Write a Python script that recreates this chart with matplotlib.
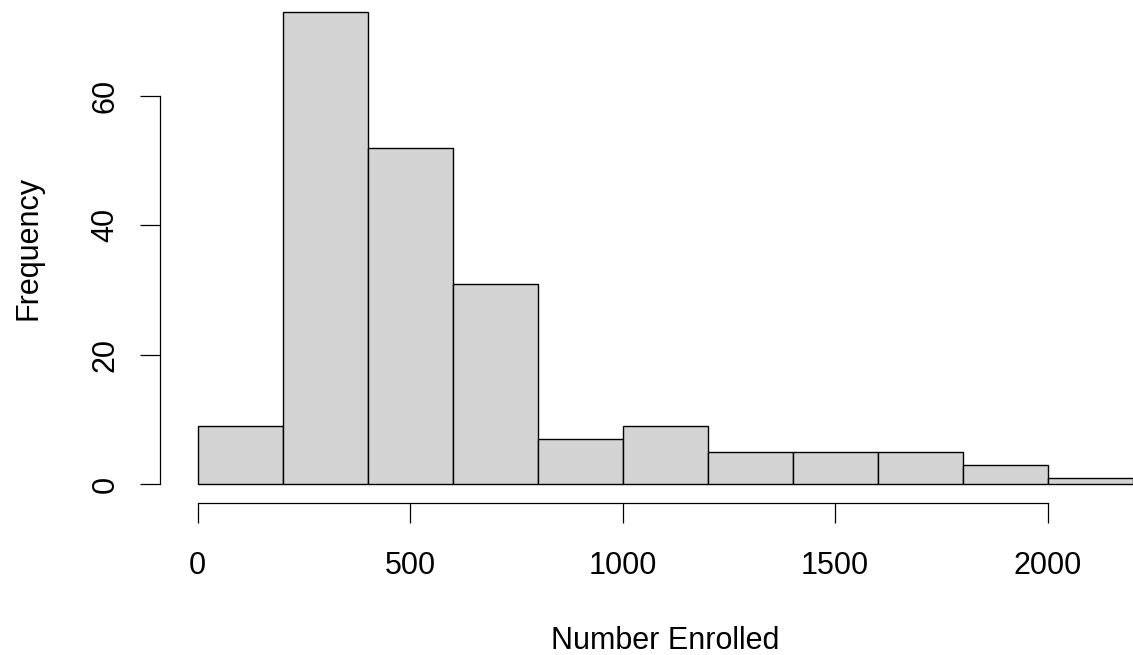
import matplotlib
matplotlib.use("Agg")
import matplotlib.pyplot as plt

# histogram of enrollment, bins of width 200
bin_edges = [0, 200, 400, 600, 800, 1000, 1200, 1400, 1600, 1800, 2000, 2200]
counts = [9, 73, 52, 31, 7, 9, 5, 5, 5, 3, 1]
x_ticks = [0, 500, 1000, 1500, 2000]
y_ticks = [0, 20, 40, 60]

plt.rcParams['font.family'] = ['Liberation Sans', 'DejaVu Sans']
plt.rcParams['font.size'] = 22

W, H = 1133, 655
fig = plt.figure(figsize=(W / 100, H / 100), dpi=100)

# plot region in pixels (R-style, 4% padding on the data range)
left_px, right_px, top_px, bottom_px = 160.3, 1170.0, -7.4, 503.3
ax = fig.add_axes([left_px / W, (H - bottom_px) / H,
                   (right_px - left_px) / W, (bottom_px - top_px) / H])

widths = [b - a for a, b in zip(bin_edges[:-1], bin_edges[1:])]
ax.bar(bin_edges[:-1], counts, width=widths, align='edge',
       color='#D3D3D3', edgecolor='black', linewidth=1.0)

xr = bin_edges[-1] - bin_edges[0]
ax.set_xlim(bin_edges[0] - 0.04 * xr, bin_edges[-1] + 0.04 * xr)
ax.set_ylim(-0.04 * max(counts), max(counts) * 1.04)

for s in ['top', 'right']:
    ax.spines[s].set_visible(False)
ax.spines['bottom'].set_bounds(x_ticks[0], x_ticks[-1])
ax.spines['left'].set_bounds(y_ticks[0], y_ticks[-1])
for s in ['bottom', 'left']:
    ax.spines[s].set_linewidth(0.9)

ax.set_xticks(x_ticks)
ax.set_yticks(y_ticks)
ax.set_yticklabels([str(v) for v in y_ticks], rotation=90, va='center')
ax.tick_params(axis='both', direction='out', length=14.4, width=0.9)
ax.tick_params(axis='x', pad=20)
ax.tick_params(axis='y', pad=14.4)

ax.set_xlabel('Number Enrolled')
ax.xaxis.set_label_coords(0.5, -(626.0 - bottom_px) / (bottom_px - top_px))
ax.set_ylabel('Frequency')
ax.yaxis.set_label_coords(-(left_px - 43) / (right_px - left_px), 0.5)

fig.savefig('out.png', dpi=100)
